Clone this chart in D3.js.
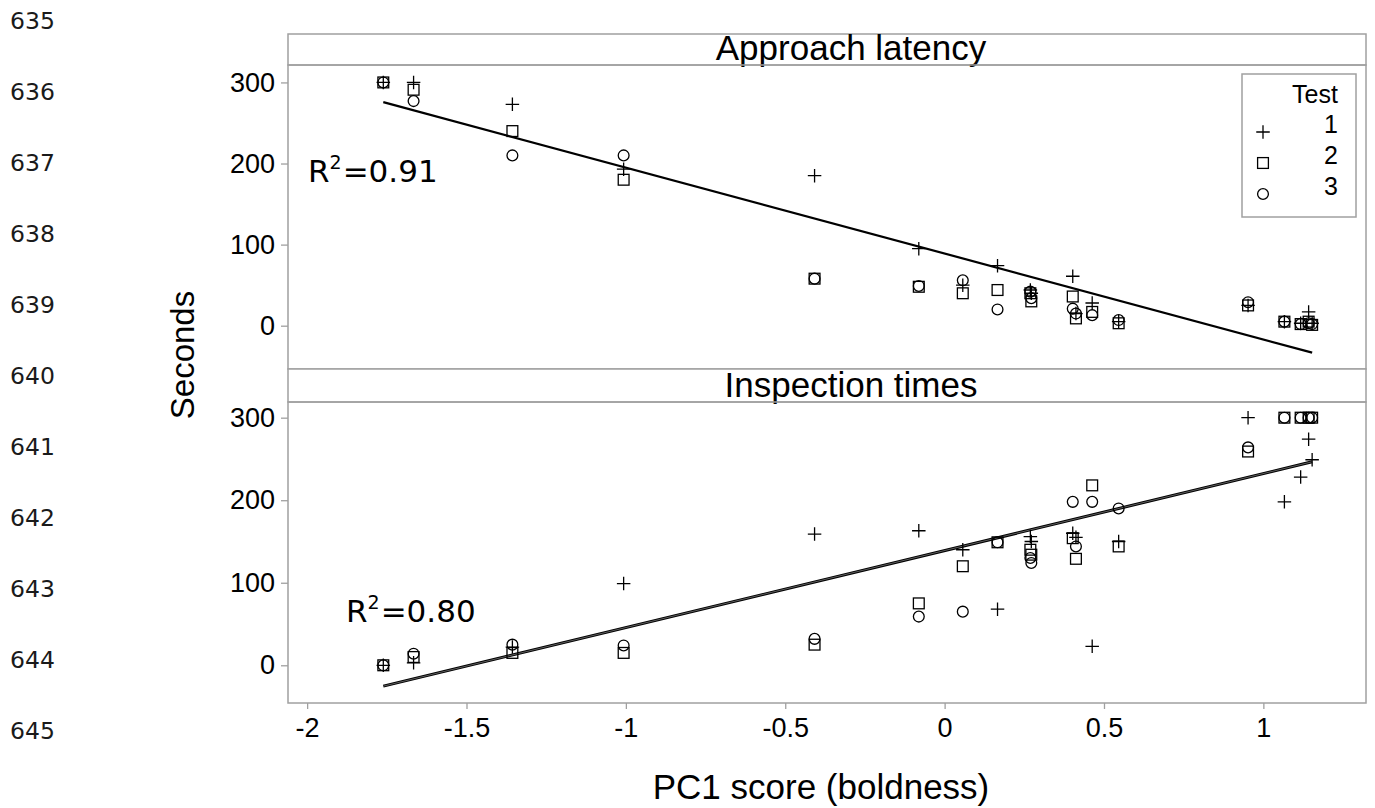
<!DOCTYPE html>
<html>
<head>
<meta charset="utf-8">
<script src="https://cdn.jsdelivr.net/npm/d3@7"></script>
<style>
  html, body { margin: 0; padding: 0; background: #fff; }
  svg { display: block; }
</style>
</head>
<body>
<svg id="chart" width="1375" height="808"></svg>
<script>
// ---------------- DATA ----------------
const lineNumbers = [635, 636, 637, 638, 639, 640, 641, 642, 643, 644, 645];

// PC1 score (boldness) of each fish
const pc1 = [-1.761, -1.666, -1.356, -1.007, -0.408, -0.081, 0.057, 0.166, 0.269, 0.272,
             0.402, 0.412, 0.463, 0.546, 0.952, 1.066, 1.117, 1.142, 1.153];

// Approach latency (s) per test
const approachTest1 = [300, 300, 273, 193, 185, 95, 50, 74, 44, 40, 61, 15, 28, 5, 25, 5, 3, 17, 3];
const approachTest2 = [300, 291, 240, 180, 58, 48, 40, 44, 40, 30, 36, 9, 17, 3, 25, 5, 2, 5, 1];
const approachTest3 = [300, 277, 210, 210, 58, 49, 56, 20, 42, 34, 21, 15, 13, 7, 29, 5, 2, 3, 2];

// Inspection times (s) per test
const inspectTest1 = [0, 3, 22, 99, 159, 163, 140, 68, 156, 150, 160, 155, 23, 150, 300, 198, 228, 274, 249];
const inspectTest2 = [0, 10, 15, 15, 25, 75, 120, 149, 140, 134, 154, 129, 218, 144, 259, 300, 300, 300, 300];
const inspectTest3 = [0, 14, 25, 24, 32, 59, 65, 149, 130, 124, 198, 144, 198, 190, 264, 300, 300, 300, 300];

// fitted regression lines: [intercept, slope], drawn over the PC1 range
const approachFit = [89, -106];
const inspectFit = [139, 93.3];

const panelTitles = ["Approach latency", "Inspection times"];
const r2Labels = ["0.91", "0.80"];
const testNames = ["1", "2", "3"];
const yTickValues = [0, 100, 200, 300];
const xTickValues = [-2, -1.5, -1, -0.5, 0, 0.5, 1];
const xTickLabels = ["-2", "-1.5", "-1", "-0.5", "0", "0.5", "1"];
const xTitle = "PC1 score (boldness)";
const yTitle = "Seconds";
const legendTitle = "Test";

// ---------------- LAYOUT ----------------
const svg = d3.select("#chart");
const FRAME = "#a0a0a0";
const left = 288, right = 1366;

const x = d3.scaleLinear().domain([-2.06, 1.322]).range([left, right]);

const panels = [
  { title: panelTitles[0], r2: r2Labels[0], stripTop: 34, top: 65, bottom: 369,
    y: d3.scaleLinear().domain([-53.4, 321.5]).range([369, 65]),
    series: [approachTest1, approachTest2, approachTest3], fit: approachFit,
    r2Pos: [308, 182], legend: true, fitWidth: 2.2, fitDouble: false },
  { title: panelTitles[1], r2: r2Labels[1], stripTop: 369, top: 402, bottom: 703,
    y: d3.scaleLinear().domain([-45.7, 319]).range([703, 402]),
    series: [inspectTest1, inspectTest2, inspectTest3], fit: inspectFit,
    r2Pos: [346, 622], legend: false, fitWidth: 3, fitDouble: true }
];

// line numbers at left margin
const lnScale = d3.scaleLinear().domain([635, 645]).range([20, 730]);
svg.append("g").selectAll("text").data(lineNumbers).join("text")
  .attr("x", 10).attr("y", d => lnScale(d) + 8.5)
  .attr("font-family", "'DejaVu Sans', sans-serif").attr("font-size", 23.5)
  .attr("fill", "#1a1a1a").text(d => d);

// marker shapes
function drawMarker(g, type, cx, cy, s) {
  if (type === 0) {
    g.append("path").attr("d", `M${cx - s / 2},${cy}H${cx + s / 2}M${cx},${cy - s / 2}V${cy + s / 2}`)
      .attr("stroke", "#000").attr("stroke-width", 1.3).attr("fill", "none");
  } else if (type === 1) {
    const w = s * 0.8;
    g.append("rect").attr("x", cx - w / 2).attr("y", cy - w / 2).attr("width", w).attr("height", w)
      .attr("stroke", "#000").attr("stroke-width", 1.3).attr("fill", "none");
  } else {
    g.append("circle").attr("cx", cx).attr("cy", cy).attr("r", s * 0.4)
      .attr("stroke", "#000").attr("stroke-width", 1.3).attr("fill", "none");
  }
}

panels.forEach((p, pi) => {
  const g = svg.append("g");
  // strip
  g.append("rect").attr("x", left).attr("y", p.stripTop).attr("width", right - left)
    .attr("height", p.top - p.stripTop).attr("fill", "#fff").attr("stroke", FRAME).attr("stroke-width", 1.5);
  g.append("text").attr("x", 851).attr("y", p.top - 5)
    .attr("text-anchor", "middle").attr("font-family", "'Liberation Sans', Arial, sans-serif")
    .attr("font-size", 35).attr("fill", "#000").text(p.title);
  // panel frame
  g.append("rect").attr("x", left).attr("y", p.top).attr("width", right - left)
    .attr("height", p.bottom - p.top).attr("fill", "none").attr("stroke", FRAME).attr("stroke-width", 1.5);

  // y axis
  const ya = g.append("g").attr("transform", `translate(${left},0)`)
    .call(d3.axisLeft(p.y).tickValues(yTickValues).tickSize(7).tickPadding(6).tickFormat(d3.format("d")));
  ya.select(".domain").remove();
  ya.selectAll("line").attr("stroke", FRAME).attr("stroke-width", 1.3);
  ya.selectAll("text").attr("font-family", "'Liberation Sans', Arial, sans-serif")
    .attr("font-size", 27).attr("fill", "#000");

  // fit line
  const xs = [d3.min(pc1), d3.max(pc1)];
  const fitPts = xs.map(v => [x(v), p.y(p.fit[0] + p.fit[1] * v)]);
  const line = d3.line();
  g.append("path").attr("d", line(fitPts)).attr("stroke", "#000")
    .attr("stroke-width", p.fitWidth).attr("fill", "none");
  if (p.fitDouble) {
    g.append("path").attr("d", line(fitPts)).attr("stroke", "#777")
      .attr("stroke-width", 0.8).attr("fill", "none");
  }

  // points
  const mg = g.append("g");
  p.series.forEach((vals, si) => {
    vals.forEach((v, i) => drawMarker(mg, si, x(pc1[i]), p.y(v), 13.5));
  });

  // R2 label
  const t = g.append("text").attr("x", p.r2Pos[0]).attr("y", p.r2Pos[1])
    .attr("font-family", "'DejaVu Sans', sans-serif").attr("font-size", 31).attr("fill", "#000");
  t.append("tspan").text("R");
  t.append("tspan").attr("font-size", 19).attr("dy", -13).text("2");
  t.append("tspan").attr("dy", 13).attr("dx", 1).text("=" + p.r2);

  // legend
  if (p.legend) {
    const lg = g.append("g");
    lg.append("rect").attr("x", 1242).attr("y", 74).attr("width", 114).attr("height", 143)
      .attr("fill", "#fff").attr("stroke", FRAME).attr("stroke-width", 1.5);
    lg.append("text").attr("x", 1315).attr("y", 103).attr("text-anchor", "middle")
      .attr("font-family", "'Liberation Sans', Arial, sans-serif").attr("font-size", 25).text(legendTitle);
    testNames.forEach((nm, k) => {
      const cy = 132 + k * 31;
      drawMarker(lg, k, 1263, cy, 13.5);
      lg.append("text").attr("x", 1338).attr("y", cy + 1).attr("text-anchor", "end")
        .attr("font-family", "'Liberation Sans', Arial, sans-serif").attr("font-size", 25).text(nm);
    });
  }
});

// x axis at bottom
const xa = svg.append("g").attr("transform", `translate(0,${panels[1].bottom})`)
  .call(d3.axisBottom(x).tickValues(xTickValues).tickSize(6).tickPadding(9)
    .tickFormat((d, i) => xTickLabels[i]));
xa.select(".domain").remove();
xa.selectAll("line").attr("stroke", FRAME).attr("stroke-width", 1.3);
xa.selectAll("text").attr("font-family", "'Liberation Sans', Arial, sans-serif")
  .attr("font-size", 27).attr("fill", "#000");

// axis titles
svg.append("text").attr("x", 821).attr("y", 799).attr("text-anchor", "middle")
  .attr("font-family", "'Liberation Sans', Arial, sans-serif").attr("font-size", 35)
  .attr("fill", "#000").text(xTitle);
svg.append("text").attr("transform", "translate(194,355) rotate(-90)").attr("text-anchor", "middle")
  .attr("font-family", "'Liberation Sans', Arial, sans-serif").attr("font-size", 33)
  .attr("fill", "#000").text(yTitle);
</script>
</body>
</html>
